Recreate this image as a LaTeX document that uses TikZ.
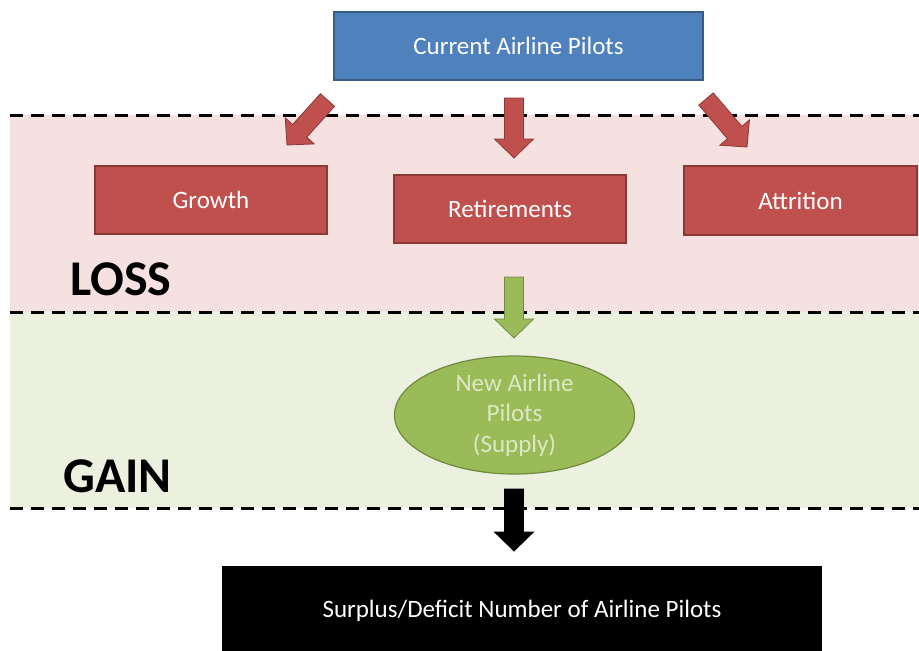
\documentclass[tikz,border=0pt]{standalone}
\usepackage{fontspec}
\setmainfont{Carlito}
\usetikzlibrary{calc,shapes.geometric}
\definecolor{bandpink}{HTML}{F5E1E0}
\definecolor{bandgreen}{HTML}{EBF1DE}
\definecolor{bluefill}{HTML}{4F81BD}
\definecolor{blueline}{HTML}{385D8A}
\definecolor{redfill}{HTML}{C0504D}
\definecolor{redline}{HTML}{8C3836}
\definecolor{greenfill}{HTML}{9BBB59}
\definecolor{greenline}{HTML}{71893F}
\definecolor{greentext}{HTML}{DCE8C4}
\newcommand\fatarrow[3]{%
  \path (#1) coordinate (fa-s) (#2) coordinate (fa-e)
    ($(fa-e)!19pt!(fa-s)$) coordinate (fa-h);
  \draw[#3] ($(fa-s)!9.5pt!90:(fa-e)$) -- ($(fa-h)!9.5pt!-90:(fa-s)$)
    -- ($(fa-h)!19.5pt!-90:(fa-s)$) -- (fa-e) -- ($(fa-h)!19.5pt!90:(fa-s)$)
    -- ($(fa-h)!9.5pt!90:(fa-s)$) -- ($(fa-s)!9.5pt!-90:(fa-e)$) -- cycle;}
\tikzset{
  boxtext/.style={font=\fontsize{25}{30}\selectfont},
  bluebox/.style={draw=blueline, fill=bluefill, line width=1.2pt, text=white,
    minimum width=369pt, minimum height=68pt, inner sep=0pt, boxtext},
  redbox/.style={draw=redline, fill=redfill, line width=1.2pt, text=white,
    minimum width=232pt, minimum height=68pt, inner sep=0pt, boxtext},
  greenell/.style={ellipse, draw=greenline, fill=greenfill, line width=1.2pt,
    text=greentext, minimum width=240pt, minimum height=118pt, inner sep=0pt,
    align=center, font=\fontsize{25}{30.5}\selectfont},
  blackbox/.style={fill=black, text=white, minimum width=600pt,
    minimum height=89pt, inner sep=0pt, boxtext},
  bandlabel/.style={font=\bfseries\fontsize{50}{60}\selectfont, anchor=base west, inner sep=0pt},
  dashline/.style={line width=3pt, dash pattern=on 13pt off 8pt},
  redarrow/.style={fill=redfill, draw=redline, line width=0.8pt},
  greenarrow/.style={fill=greenfill, draw=greenline, line width=0.8pt},
  blackarrow/.style={fill=black, draw=black, line width=0.8pt},
}
\begin{document}
\begin{tikzpicture}[x=1pt,y=-1pt]
\useasboundingbox (0,0) rectangle (919,651);
% bands
\fill[bandpink] (10,115) rectangle (919,312);
\fill[bandgreen] (10,312) rectangle (919,508);
\draw[dashline] (10,115) -- (919,115);
\draw[dashline] (10,312) -- (919,312);
\draw[dashline] (10,508) -- (919,508);
% labels
\node[bandlabel] (loss) at (70,295) {LOSS};
\node[bandlabel] (gain) at (63,492) {GAIN};
% nodes
\node[bluebox] (cur) at (518.5,46) {Current Airline Pilots};
\node[redbox] (growth) at (211,200) {Growth};
\node[redbox] (retire) at (510,209) {Retirements};
\node[redbox, minimum width=233pt, minimum height=69pt] (attr) at (800.5,200.5) {Attrition};
\node[greenell] (new) at (514.5,415) {New Airline\\Pilots\\(Supply)};
\node[blackbox] (result) at (522,610.5) {Surplus/Deficit Number of Airline Pilots};
% arrow end points
\coordinate (gs) at (327.5,100);
\coordinate (ge) at (287,145);
\coordinate (rs) at (514,98);
\coordinate (re) at (514,158);
\coordinate (as) at (706,99);
\coordinate (ae) at (747,147);
\coordinate (ns) at (514,277);
\coordinate (ne) at (514,338);
\coordinate (bs) at (514,489);
\coordinate (be) at (514,551);
\fatarrow{gs}{ge}{redarrow}
\fatarrow{rs}{re}{redarrow}
\fatarrow{as}{ae}{redarrow}
\fatarrow{ns}{ne}{greenarrow}
\fatarrow{bs}{be}{blackarrow}
\end{tikzpicture}
\end{document}
